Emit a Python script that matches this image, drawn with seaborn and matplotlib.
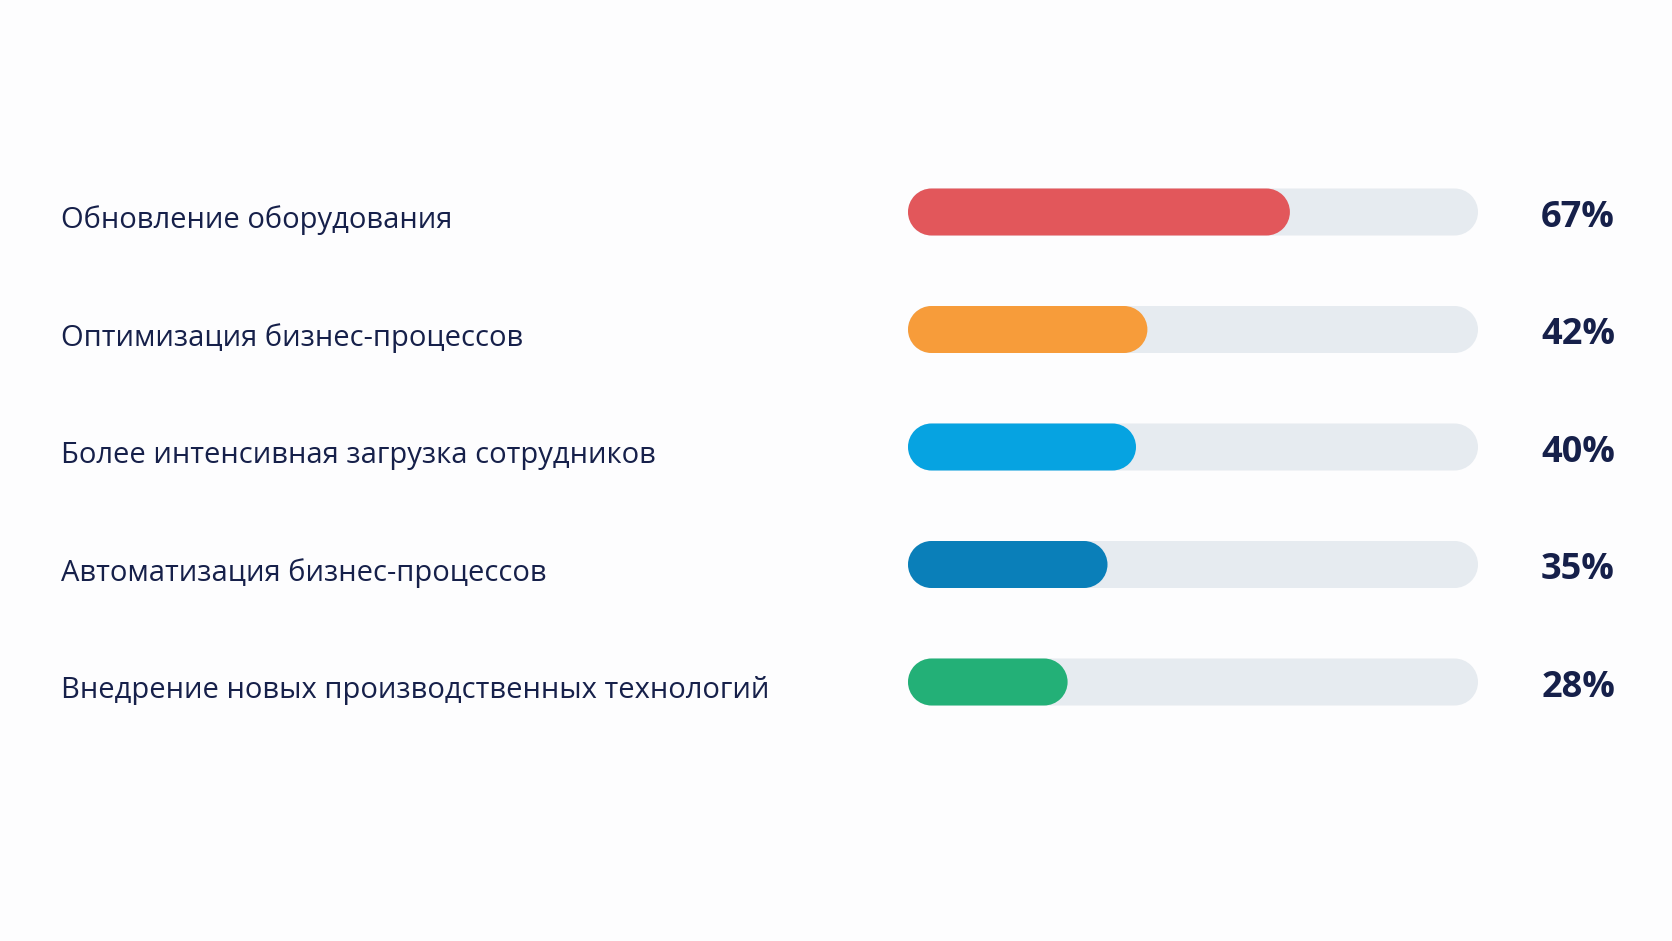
import matplotlib
matplotlib.use("Agg")
import matplotlib.pyplot as plt
from matplotlib.patches import PathPatch
from matplotlib.path import Path
import matplotlib.transforms as mtransforms
import numpy as np
import seaborn as sns
import pandas as pd

# data
categories = [
    "Обновление оборудования",
    "Оптимизация бизнес-процессов",
    "Более интенсивная загрузка сотрудников",
    "Автоматизация бизнес-процессов",
    "Внедрение новых производственных технологий",
]
values = [67, 42, 40, 35, 28]
bar_colors = ["#E2575B", "#F79C3A", "#06A3E1", "#0A7FB9", "#23B077"]
track_color = "#E6EBF0"
text_color = "#16204A"

df = pd.DataFrame({"factor": categories, "share": values, "full": [100] * len(values)})

sns.set_theme(style="white")
plt.rcParams["font.family"] = ["Open Sans", "DejaVu Sans"]

fig = plt.figure(figsize=(16.72, 9.41), dpi=100, facecolor="#FDFDFE")
# rows at ~212 .. 682 px from top
step = (682 - 212) / 4
top = 212 - step / 2
bottom = 682 + step / 2
ax = fig.add_axes([908 / 1672, 1 - bottom / 941, 570 / 1672, (bottom - top) / 941])
ax.set_facecolor("none")

# grey track and coloured bars
sns.barplot(data=df, y="factor", x="full", color=track_color, width=0.4,
            orient="h", ax=ax, saturation=1)
sns.barplot(data=df, y="factor", x="share", hue="factor", palette=bar_colors,
            width=0.4, orient="h", ax=ax, legend=False, saturation=1)
ax.set_xlim(0, 100)
ax.set_ylim(len(categories) - 0.5, -0.5)


def pill_path(x, y, w, h, r):
    yc = y + h / 2
    right = Path.arc(-90, 90)
    left = Path.arc(90, 270)
    v1 = right.vertices * [r, h / 2] + [x + w - r, yc]
    v2 = left.vertices * [r, h / 2] + [x + r, yc]
    c2 = left.codes.copy()
    c2[0] = Path.LINETO
    verts = np.vstack([v1, v2, v1[:1]])
    codes = np.concatenate([right.codes, c2, [Path.CLOSEPOLY]])
    return Path(verts, codes)


# turn rectangles into pill shapes
fig.canvas.draw()
px_x = ax.transData.transform((1, 0))[0] - ax.transData.transform((0, 0))[0]
px_y = abs(ax.transData.transform((0, 1))[1] - ax.transData.transform((0, 0))[1])
for p in list(ax.patches):
    x, y = p.get_x(), p.get_y()
    w, h = p.get_width(), p.get_height()
    if w <= 0:
        continue
    r = h * px_y / px_x / 2  # cap radius in x units
    fc = p.get_facecolor()
    z = p.get_zorder()
    p.remove()
    ax.add_patch(PathPatch(pill_path(x, y, w, h, r), facecolor=fc,
                           edgecolor="none", zorder=z))

ax.axis("off")

# labels and percentages
trans_left = mtransforms.blended_transform_factory(fig.transFigure, ax.transData)
for i, (cat, v) in enumerate(zip(categories, values)):
    ax.text(61 / 1672, i + 0.07, cat, transform=trans_left, ha="left", va="center",
            fontsize=21, color=text_color)
    ax.text(1615 / 1672, i + 0.05, f"{v}%", transform=trans_left, ha="right",
            va="center", fontsize=26, fontweight="bold", color=text_color)

fig.savefig("out.png", dpi=100, facecolor=fig.get_facecolor())
